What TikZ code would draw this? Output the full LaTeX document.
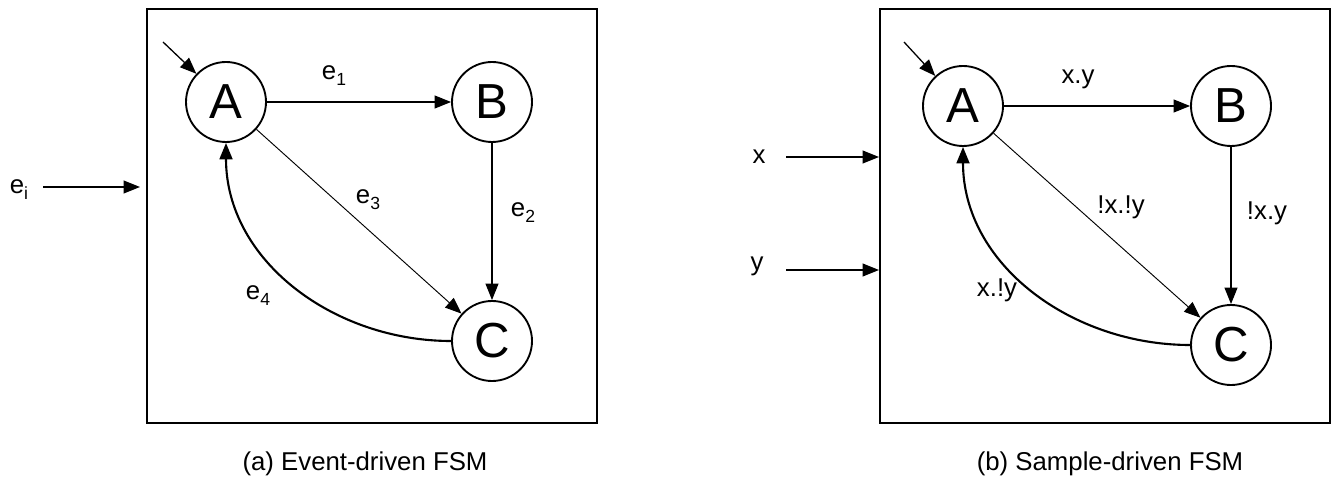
\documentclass[tikz,border=0pt]{standalone}
\usepackage{fontspec}
\setmainfont{Liberation Sans}
\usetikzlibrary{arrows.meta}
\newcommand{\lowsub}[1]{\raisebox{-0.45ex}{\fontsize{15}{15}\selectfont #1}}

\begin{document}
\begin{tikzpicture}[x=0.03cm,y=-0.03cm,
  state/.style={circle,draw,line width=1.6pt,minimum size=2.4cm,inner sep=0pt,font=\fontsize{42}{42}\selectfont},
  trans/.style={-{Triangle[length=14pt,width=11pt]},line width=1.1pt},
  lab/.style={font=\fontsize{22}{26}\selectfont}]
\useasboundingbox (0,0) rectangle (1338,485);
% (a) event-driven
\draw[line width=2.3pt] (147,9) rectangle (597,423);
\node[state] (A1) at (226,102) {A};
\node[state] (B1) at (492,102) {B};
\node[state] (C1) at (492,341) {C};
\coordinate (s1) at (163,42);
\coordinate (ei0) at (43,187); \coordinate (ei1) at (140,187);
\draw[trans] (s1) -- (A1);
\draw[trans] (A1) -- (B1);
\draw[trans] (B1) -- (C1);
\draw[trans,line width=0.8pt] (A1) -- (C1);
\draw[trans,line width=1.8pt] (C1.west) to[out=180,in=-90] (A1.south);
\draw[trans] (ei0) -- (ei1);
\node[lab] (ei) at (19,190) {e\lowsub{i}};
\node[lab] (e1) at (334,76) {e\lowsub{1}};
\node[lab] (e2) at (523,213) {e\lowsub{2}};
\node[lab] (e3) at (368,200) {e\lowsub{3}};
\node[lab] (e4) at (258,296) {e\lowsub{4}};
\node[lab] (capa) at (365,464) {(a) Event-driven FSM};
% (b) sample-driven
\draw[line width=2.3pt] (880,9) rectangle (1330,423);
\node[state] (A2) at (963,106) {A};
\node[state] (B2) at (1231,106) {B};
\node[state] (C2) at (1231,345) {C};
\coordinate (s2) at (904,42);
\coordinate (x0) at (786,157); \coordinate (x1) at (879,157);
\coordinate (y0) at (786,270); \coordinate (y1) at (879,270);
\draw[trans] (s2) -- (A2);
\draw[trans] (A2) -- (B2);
\draw[trans] (B2) -- (C2);
\draw[trans,line width=0.8pt] (A2) -- (C2);
\draw[trans,line width=1.8pt] (C2.west) to[out=180,in=-90] (A2.south);
\draw[trans] (x0) -- (x1);
\draw[trans] (y0) -- (y1);
\node[lab] (xin) at (759,157) {x};
\node[lab] (yin) at (757,266) {y};
\node[lab] (l1) at (1078,79) {x.y};
\node[lab] (l2) at (1267,213) {!x.y};
\node[lab] (l3) at (1121,207) {!x.!y};
\node[lab] (l4) at (997,290) {x.!y};
\node[lab] (capb) at (1110,464) {(b) Sample-driven FSM};
\end{tikzpicture}
\end{document}
